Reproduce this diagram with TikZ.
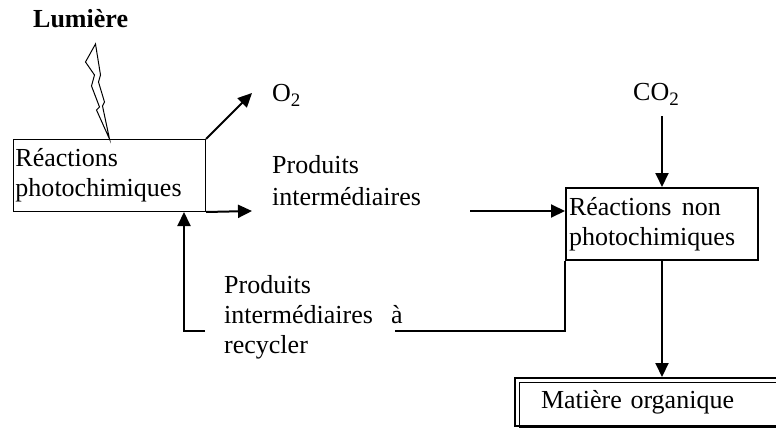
\documentclass[tikz,border=0pt]{standalone}
\usepackage{fontspec}
\setmainfont{Liberation Serif}
\usetikzlibrary{arrows.meta}
\newcommand{\ind}[1]{\raisebox{-5pt}{\fontsize{19}{19}\selectfont #1}}
\begin{document}
\begin{tikzpicture}[x=1pt,y=-1pt,font=\fontsize{26}{30}\selectfont,
	arr/.style={line width=2pt,-{Triangle[length=14pt,width=13pt]}},
	txt/.style={anchor=base west,inner sep=0pt,align=left},
	box/.style={draw,inner xsep=2pt,inner ysep=0pt,align=left}]
	\useasboundingbox (0,0) rectangle (776,428);
	\node[txt,font=\fontsize{26}{30}\selectfont\bfseries] (lum) at (33,28) {Lumière};
	\node[box,line width=1pt,minimum width=192,minimum height=72,text width=188,anchor=north west] (photo) at (13,139) {Réactions\\photochimiques};
	\node[box,line width=2pt,minimum width=192,minimum height=72,text width=186,anchor=north west] (nonphoto) at (565,187) {Réactions\hspace{0.4em}non\\photochimiques};
	\node[draw,line width=2pt,minimum width=300,minimum height=48,anchor=north west,text width=272,inner xsep=26pt,align=left] (mat) at (514,377) {Matière organique};
	\draw[line width=1pt] ([shift={(5,5)}]mat.north west) rectangle (mat.south east);
	\node[txt] (o2) at (272,101) {O\ind{2}};
	\node[txt] (co2) at (633,100) {CO\ind{2}};
	\node[txt,font=\fontsize{26}{32}\selectfont] (prod) at (272,205) {Produits\\intermédiaires};
	\node[txt] (recyc) at (224,353) {Produits\\intermédiaires\hspace{0.7em}à\\recycler};
	% eclair
	\draw[line width=1pt,fill=white,shift={(photo.north)}] (-14,-95) -- (-24,-77) -- (-15,-64) -- (-18,-53) -- (-10,-32) -- (-13,-29) -- (0,0) -- (-7,-33) -- (-5,-37) -- (-11,-57) -- (-9,-64) -- cycle;
	% fleches
	\coordinate (o2tip) at (252,93);
	\coordinate (prodin) at (252,211);
	\coordinate (prodout) at (470,211);
	\coordinate (recin) at (395,331);
	\coordinate (recout) at (205,331);
	\draw[arr] (photo.north east) -- (o2tip);
	\draw[arr] (photo.south east) -- (prodin);
	\draw[arr] (prodout) -- (prodout -| nonphoto.west);
	\draw[arr] ([yshift=-16pt]co2.base -| nonphoto.north) -- (nonphoto.north);
	\draw[arr] (nonphoto.south) -- (nonphoto.south |- mat.north);
	\draw[line width=2pt] (nonphoto.south west) |- (recin);
	\draw[arr] (recout) -| ([xshift=-22pt]photo.south east);
\end{tikzpicture}
\end{document}
